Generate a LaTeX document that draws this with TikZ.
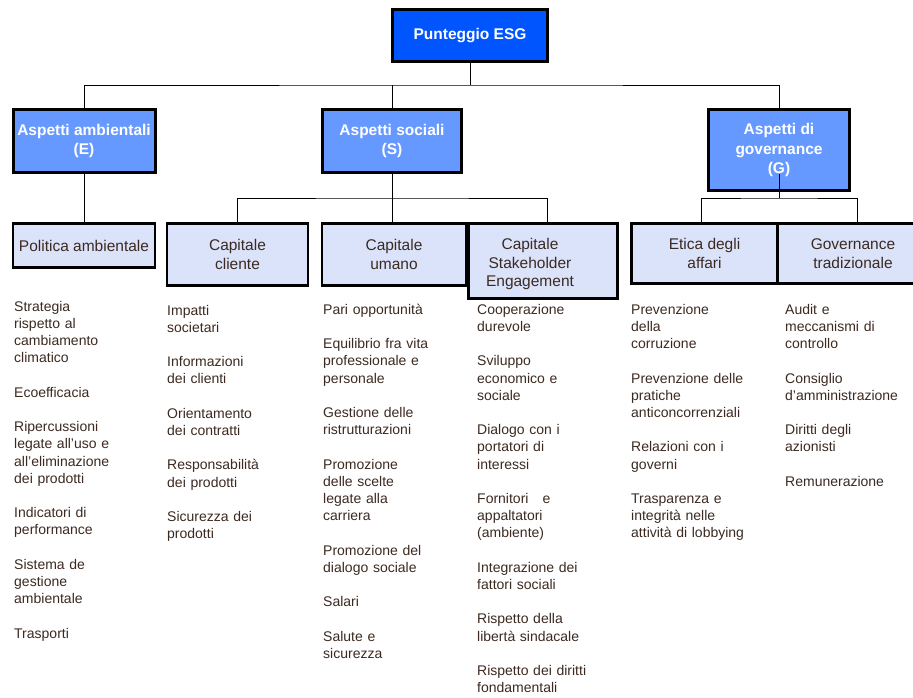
\documentclass[tikz,border=0pt]{standalone}
\usepackage{fontspec}
\setmainfont{Liberation Sans}
\definecolor{topblue}{HTML}{0055FF}
\definecolor{headblue}{HTML}{6699FF}
\definecolor{subblue}{HTML}{DAE3FA}
\definecolor{txt}{HTML}{3C2A21}
\tikzset{
  topbox/.style={draw=black, line width=3pt, fill=topblue, text=white, inner sep=0pt, align=center,
    font=\fontsize{15.5}{19}\selectfont\bfseries},
  headbox/.style={draw=black, line width=3pt, fill=headblue, text=white, inner sep=0pt, align=center,
    font=\fontsize{15.5}{19.5}\selectfont\bfseries},
  subbox/.style={draw=black, line width=2.5pt, fill=subblue, text=txt, inner sep=0pt, align=center,
    font=\fontsize{15.5}{18.5}\selectfont},
  conn/.style={draw=black, line width=1pt},
  itemlist/.style={anchor=base west, text width=160pt, align=left, inner sep=0pt, text=txt,
    font=\fontsize{14}{17.2}\selectfont}
}
\begin{document}
\begin{tikzpicture}[x=1pt,y=-1pt]
\useasboundingbox (0,0) rectangle (913,697);
\fill[white] (0,0) rectangle (913,697);

% top
\node[topbox, minimum width=155pt, minimum height=52pt] (top) at (470,35.5) {Punteggio ESG};
% heads
\node[headbox, minimum width=142pt, minimum height=63pt] (E) at (84,141) {Aspetti ambientali\\(E)};
\node[headbox, minimum width=139pt, minimum height=63pt] (S) at (392,141) {Aspetti sociali\\(S)};
\node[headbox, minimum width=141pt, minimum height=81pt] (G) at (779,150) {Aspetti di\\governance\\(G)};

% sub boxes
\node[subbox, minimum width=142pt, minimum height=44pt] (pol) at (84,245.5) {Politica ambientale};
\node[subbox, minimum width=141pt, minimum height=62pt] (cli) at (237.5,254.5) {Capitale\\cliente};
\node[subbox, minimum width=144pt, minimum height=62pt] (uma) at (394,254.5) {Capitale\\umano};
\node[subbox, minimum width=149pt, minimum height=75pt] (sta) at (543,261)
  {\begin{tabular}{@{}c@{}}\rule{0pt}{20pt}Capitale\\Stakeholder\\Engagement\end{tabular}\hspace*{26pt}};
\node[subbox, minimum width=146pt, minimum height=60pt] (eti) at (704.5,253.5) {Etica degli\\affari};
\node[subbox, minimum width=150pt, minimum height=60pt] (gov) at (853,253.5) {Governance\\tradizionale};

% connectors
\coordinate (b1) at (470,85);
\coordinate (b2) at (392,198);
\coordinate (b3) at (779,198);
\draw[conn] (top.south) -- (b1);
\draw[conn] (E.north) |- (b1) -| (G.north);
\draw[conn] (S.north) -- (S.north |- b1);
\draw[conn] (E.south) -- (pol.north);
\draw[conn] (S.south) -- (S.south |- uma.north);
\draw[conn] (cli.north) |- (b2) -| ([xshift=4pt]sta.north);
\draw[conn] ([yshift=18pt]G.south) -- (b3);
\draw[conn] ([xshift=-3.5pt]eti.north) |- (b3) -| ([xshift=4pt]gov.north);

% lists
\node[itemlist] (l1) at (14,311.3) {Strategia\\rispetto al\\cambiamento\\climatico\\[17.2pt]
Ecoefficacia\\[17.2pt]
Ripercussioni\\legate all’uso e\\all’eliminazione\\dei prodotti\\[17.2pt]
Indicatori di\\performance\\[17.2pt]
Sistema de\\gestione\\ambientale\\[17.2pt]
Trasporti};

\node[itemlist] (l2) at (167,315) {Impatti\\societari\\[17.2pt]
Informazioni\\dei clienti\\[17.2pt]
Orientamento\\dei contratti\\[17.2pt]
Responsabilità\\dei prodotti\\[17.2pt]
Sicurezza dei\\prodotti};

\node[itemlist] (l3) at (323,314.3) {Pari opportunità\\[17.2pt]
Equilibrio fra vita\\professionale e\\personale\\[17.2pt]
Gestione delle\\ristrutturazioni\\[17.2pt]
Promozione\\delle scelte\\legate alla\\carriera\\[17.2pt]
Promozione del\\dialogo sociale\\[17.2pt]
Salari\\[17.2pt]
Salute e\\sicurezza};

\node[itemlist] (l4) at (477,314.3) {Cooperazione\\durevole\\[17.2pt]
Sviluppo\\economico e\\sociale\\[17.2pt]
Dialogo con i\\portatori di\\interessi\\[17.2pt]
Fornitori\ \ \ e\\appaltatori\\(ambiente)\\[17.2pt]
Integrazione dei\\fattori sociali\\[17.2pt]
Rispetto della\\libertà sindacale\\[17.2pt]
Rispetto dei diritti\\fondamentali};

\node[itemlist] (l5) at (631,314.3) {Prevenzione\\della\\corruzione\\[17.2pt]
Prevenzione delle\\pratiche\\anticoncorrenziali\\[17.2pt]
Relazioni con i\\governi\\[17.2pt]
Trasparenza e\\integrità nelle\\attività di lobbying};

\node[itemlist] (l6) at (785,314.3) {Audit e\\meccanismi di\\controllo\\[17.2pt]
Consiglio\\d’amministrazione\\[17.2pt]
Diritti degli\\azionisti\\[17.2pt]
Remunerazione};
\end{tikzpicture}
\end{document}
